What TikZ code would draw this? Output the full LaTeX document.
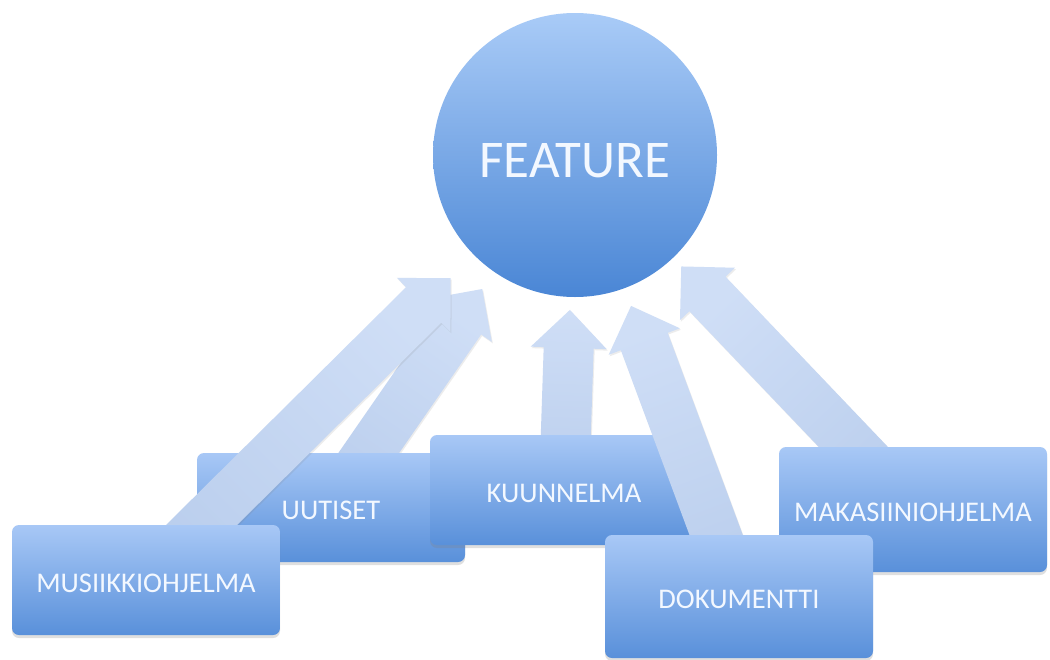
\documentclass[tikz,border=0pt]{standalone}
\usepackage{fontspec}
\setmainfont{Carlito}
\usetikzlibrary{calc,shadows}
\definecolor{boxtop}{HTML}{A8C8F6}
\definecolor{boxbot}{HTML}{5990DA}
\definecolor{circtop}{HTML}{A9CBF7}
\definecolor{circbot}{HTML}{4A86D5}
\definecolor{arrhead}{HTML}{CFDEF6}
\definecolor{arrtail}{HTML}{BACEED}
\definecolor{txtcol}{HTML}{F3F8FF}
\pgfdeclarelayer{bg}
\pgfdeclarelayer{backarr}
\pgfdeclarelayer{boxes}
\pgfdeclarelayer{frontarr}
\pgfsetlayers{bg,backarr,boxes,frontarr,main}
\tikzset{
  prog/.style={rectangle, rounded corners=7pt, top color=boxtop, bottom color=boxbot,
    draw=none, text=txtcol, font=\fontsize{28.5pt}{34pt}\selectfont,
    text height=24.5pt, text depth=0pt,
    minimum width=268pt, inner sep=0pt,
    drop shadow={shadow xshift=0pt, shadow yshift=-3pt, opacity=0.25}},
  featnode/.style={circle, minimum size=284pt, inner sep=0pt, top color=circtop,
    bottom color=circbot, text=txtcol, font=\fontsize{53pt}{60pt}\selectfont,
    text height=44pt, text depth=0pt},
  blockarr/.style={top color=arrhead, bottom color=arrtail, draw=none,
    drop shadow={shadow xshift=1pt, shadow yshift=-1.5pt, opacity=0.15}}
}
% #1 source node, #2 tip distance from feature centre, #3 head base distance, #4 shading angle
\newcommand\featarrow[4]{%
  \coordinate (#1-tip) at ($(feat.center)!#2!(#1.center)$);
  \coordinate (#1-base) at ($(feat.center)!#3!(#1.center)$);
  \path[blockarr, shading angle=#4]
    ($(#1.center)!25pt!90:(feat.center)$) -- ($(#1-base)!25pt!90:(feat.center)$)
    -- ($(#1-base)!38pt!90:(feat.center)$) -- (#1-tip)
    -- ($(#1-base)!38pt!-90:(feat.center)$) -- ($(#1-base)!25pt!-90:(feat.center)$)
    -- ($(#1.center)!25pt!-90:(feat.center)$) -- cycle;
}
\begin{document}
\begin{tikzpicture}[x=1pt,y=-1pt]
\begin{pgfonlayer}{bg}
  \path[use as bounding box, fill=white] (0,0) rectangle (1050,659);
\end{pgfonlayer}

\node[featnode] (feat) at (575,155) {FEATURE};

\begin{pgfonlayer}{boxes}
  \node[prog, minimum height=109pt] (uut) at (331,507.5) {UUTISET};
  \node[prog, minimum height=110pt] (kuu) at (564,490) {KUUNNELMA};
  \node[prog, minimum height=125pt] (mak) at (913,509.5) {MAKASIINIOHJELMA};
\end{pgfonlayer}

\node[prog, minimum height=110pt] (musi) at (146,580) {MUSIIKKIOHJELMA};
\node[prog, minimum height=123pt] (dok) at (739,596.5) {DOKUMENTTI};

\begin{pgfonlayer}{backarr}
  \featarrow{uut}{163pt}{201pt}{-34.7}
  \featarrow{kuu}{155pt}{193pt}{-2}
  \featarrow{mak}{154pt}{192pt}{43.6}
\end{pgfonlayer}

\begin{pgfonlayer}{frontarr}
  \featarrow{musi}{175pt}{213pt}{-45.3}
  \featarrow{dok}{161pt}{199pt}{20.4}
\end{pgfonlayer}
\end{tikzpicture}
\end{document}
